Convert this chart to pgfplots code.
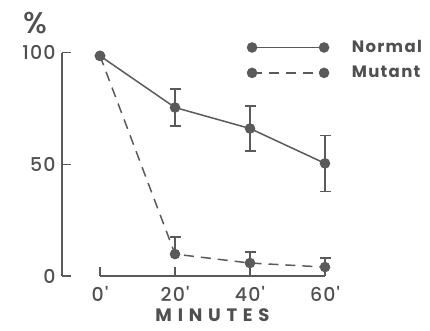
\documentclass[border=0pt]{standalone}
\usepackage{pgfplots}
\pgfplotsset{compat=1.18}
\usepackage{fontspec}
\setmainfont{Poppins}[UprightFont=* Medium]
\newfontfamily\tickfont[UprightFont=* Medium, LetterSpace=6]{Poppins}
\newfontfamily\legfont[LetterSpace=8]{Poppins}
\newfontfamily\labfont[LetterSpace=32]{Poppins}
\definecolor{ink}{HTML}{5A5A5A}
\definecolor{txt}{HTML}{505050}
\begin{document}
\begin{tikzpicture}
\begin{axis}[
  x=3.75pt, y=2.235pt,
  xmin=-10.1, xmax=70, ymin=0, ymax=100,
  clip=false,
  axis y line=left, axis x line=bottom,
  axis line style={-, draw=ink, line width=1.5pt},
  x axis line style={draw=none},
  tick align=inside,
  major tick length=9pt,
  tick style={draw=ink, line width=1.5pt},
  xtick={0,20,40,60}, xticklabels={0',20',40',60'},
  ytick={0,50,100}, yticklabels={0,50,100},
  ticklabel style={font=\tickfont\fontsize{19}{19}\selectfont, text=txt},
  xticklabel style={yshift=-7pt},
  yticklabel style={xshift=-3pt},
  xlabel={MINUTES},
  every axis x label/.style={at={(axis cs:30,-17.4)}, anchor=center, font=\labfont\bfseries\fontsize{18}{18}\selectfont, text=txt},
  ylabel={\%},
  every axis y label/.style={at={(axis cs:-17.3,113.4)}, anchor=center, font=\fontsize{30}{30}\selectfont, text=txt},
  legend style={draw=none, fill=none, at={(axis cs:38.5,107.2)}, anchor=north west,
    font=\legfont\bfseries\fontsize{16.5}{16.5}\selectfont, text=txt, row sep=8pt,
    nodes={inner xsep=3pt}},
  legend cell align=left,
  legend image code/.code={\draw[#1] plot coordinates {(0pt,0pt) (72pt,0pt)}; \path (96pt,0pt);},
]
\coordinate (bbsw) at (axis cs:-26.67,-24.6);
\coordinate (bbne) at (axis cs:88,123.5);
\draw[ink, line width=1.5pt] (axis cs:0,0) -- (axis cs:60,0);
\addplot[ink, line width=1.5pt, mark=*, mark size=4.5pt, mark options={solid, fill=ink},
  error bars/.cd, y dir=both, y explicit,
  error bar style={line width=1.5pt, ink, solid},
  error mark options={rotate=90, mark size=5.5pt, line width=1.5pt, ink}]
  coordinates {(0,98.5) (20,75.4) +- (0,8.2) (40,66) +- (0,10) (60,50.4) +- (0,12.5)};
\addlegendentry{Normal}
\addplot[ink, line width=1.5pt, dash pattern=on 10pt off 7pt, mark=*, mark size=4.5pt, mark options={solid, fill=ink},
  error bars/.cd, y dir=plus, y explicit,
  error bar style={line width=1.5pt, ink, solid},
  error mark options={rotate=90, mark size=5.5pt, line width=1.5pt, ink}]
  coordinates {(0,98.5) (20,9.8) +- (0,7.6) (40,5.8) +- (0,4.9) (60,4.0) +- (0,4.0)};
\addlegendentry{Mutant}
\end{axis}
\pgfresetboundingbox
\useasboundingbox (bbsw) rectangle (bbne);
\end{tikzpicture}
\end{document}
